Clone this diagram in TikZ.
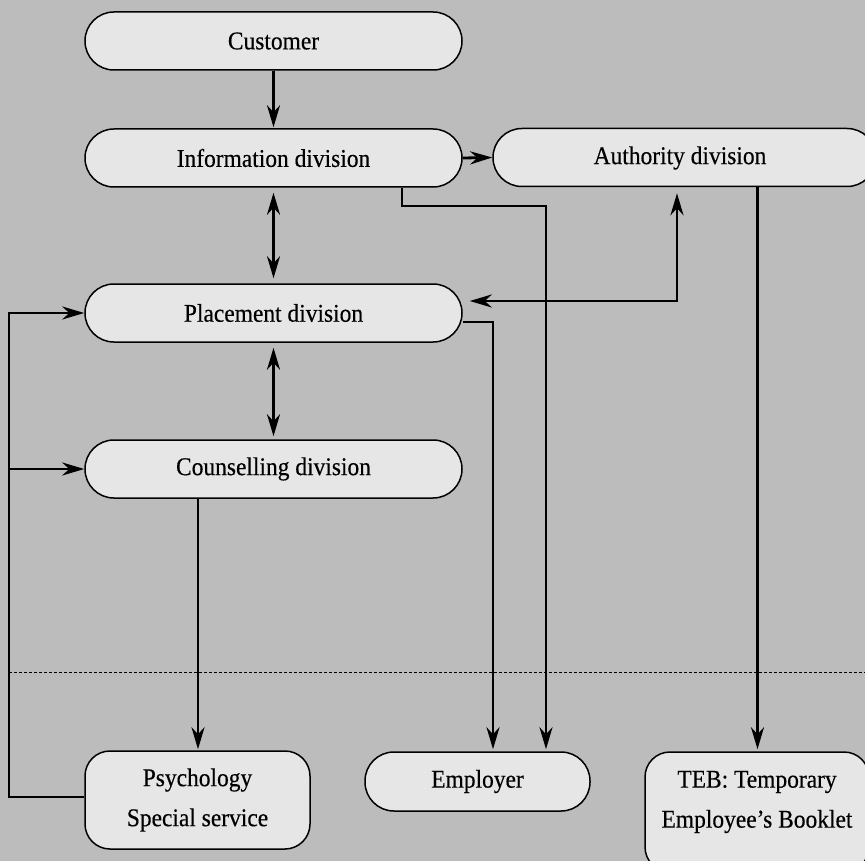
\documentclass[tikz,border=0pt]{standalone}
\usepackage{fontspec}
\setmainfont[FakeStretch=0.92, FakeBold=0.35]{Liberation Serif}
\usetikzlibrary{arrows.meta}
\definecolor{bggray}{RGB}{188,188,188}
\definecolor{boxgray}{RGB}{230,230,230}
\tikzset{
  pill/.style={draw=black, line width=1.5pt, fill=boxgray, rounded corners=28.9pt,
    minimum width=377pt, minimum height=58pt, inner sep=0pt,
    font=\fontsize{25.5}{30}\selectfont},
  tallbox/.style={draw=black, line width=1.5pt, fill=boxgray, rounded corners=25pt,
    inner sep=0pt, align=center, font=\fontsize{25.5}{40}\selectfont},
  tip/.style={Stealth[length=22pt,width=13pt,inset=7pt]},
  conn/.style={line width=2.8pt, -{Stealth[length=22pt,width=13pt,inset=7pt]}},
  conn2/.style={line width=2.8pt, {Stealth[length=22pt,width=13pt,inset=7pt]}-{Stealth[length=22pt,width=13pt,inset=7pt]}},
}
\begin{document}
\begin{tikzpicture}[x=1pt, y=-1pt]
  \useasboundingbox (0,0) rectangle (865,861);
  \clip (0,0) rectangle (865,861);
  \fill[bggray] (0,0) rectangle (865,861);

  % divisions
  \node[pill] (cust)  at (273.5,41)  {Customer};
  \node[pill] (info)  at (273.5,158) {Information division};
  \node[pill, minimum width=383pt] (auth) at (684.5,157.5) {};
  \node[font=\fontsize{25.5}{30}\selectfont] (authtxt) at (680,158) {Authority division};
  \node[pill] (place) at (273.5,313) {Placement division};
  \node[pill] (couns) at (273.5,469) {Counselling division};

  % receivers
  \node[tallbox, minimum width=225pt, minimum height=98pt] (psy) at (197.5,800)
    {Psychology\\Special service};
  \node[pill, minimum width=225pt, minimum height=59pt] (emp) at (477.5,781.5) {Employer};
  \node[tallbox, minimum width=224pt, minimum height=120pt] (teb) at (757,812) {};
  \node[align=center, font=\fontsize{25.5}{40}\selectfont] (tebtxt) at (757,802)
    {TEB: Temporary\\Employee’s Booklet};

  % separator
  \draw[line width=1pt, dash pattern=on 3pt off 2pt] (9,672) -- (865,672);

  % bend points
  \coordinate (jL) at (9,0);
  \coordinate (jI) at (402,206);
  \coordinate (jE) at (546,0);
  \coordinate (jP) at (493,0);
  \coordinate (jA) at (677,301);
  \coordinate (jT) at (757.5,0);
  \coordinate (jC) at (198,0);

  % connectors
  \draw[conn, shorten >=1pt] (cust) -- (info);
  \draw[conn2, shorten <=5pt, shorten >=5pt] (info) -- (place);
  \draw[conn2, shorten <=5pt, shorten >=3pt] (place) -- (couns);
  \draw[conn] (info.east) -- (auth.west);
  \draw[conn, shorten >=2pt] (info.south -| jI) -- (jI) -| (emp.north -| jE);
  \draw[conn, shorten >=2pt] ([yshift=-9pt]place.east) -| (emp.north -| jP);
  \draw[conn2, shorten <=7pt, shorten >=6pt] (jA -| place.east) -| (auth.south -| jA);
  \draw[conn, shorten >=2pt] (auth.south -| jT) -- (teb.north -| jT);
  \draw[conn, shorten >=1pt] (couns.south -| jC) -- (psy.north -| jC);
  \draw[conn] ([yshift=3pt]psy.west) -| (place.west -| jL) -- (place.west);
  \draw[conn] (couns.west -| jL) -- (couns.west);
\end{tikzpicture}
\end{document}
